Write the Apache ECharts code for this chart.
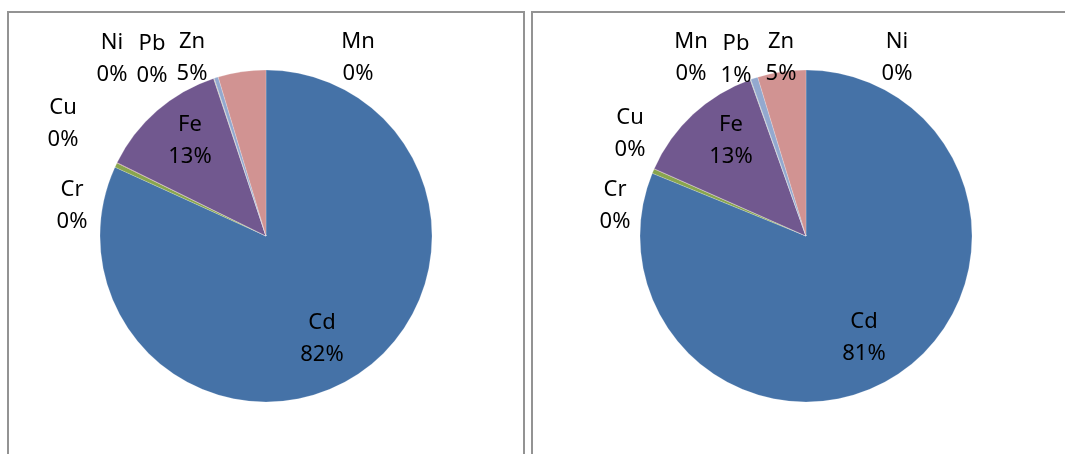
<!DOCTYPE html>
<html>
<head>
<meta charset="utf-8">
<script src="https://cdn.jsdelivr.net/npm/echarts@6/dist/echarts.min.js"></script>
<style>
  html, body { margin: 0; padding: 0; background: #fff; }
  #chart { width: 1065px; height: 454px; }
</style>
</head>
<body>
<div id="chart"></div>
<script>
// metal shares, clockwise from 12 o'clock
let metals = ['Cd', 'Cr', 'Cu', 'Fe', 'Mn', 'Ni', 'Pb', 'Zn'];
let sharesLeft = [81.8, 0.45, 0.03, 12.6, 0.03, 0.03, 0.4, 4.65];
let sharesRight = [81.2, 0.45, 0.03, 12.9, 0.03, 0.03, 0.7, 4.7];

let colors = ['#4572A7', '#89A54E', '#AA4643', '#71588F', '#4198AF', '#DB843D', '#93A9CF', '#D19392'];

// where Excel put each data label (label centre, px)
let labelPosLeft = {
    Cd: [322, 339], Cr: [72, 206], Cu: [63, 124], Fe: [190, 141],
    Mn: [358, 58], Ni: [112, 59], Pb: [152, 60], Zn: [192, 58]
};
let labelPosRight = {
    Cd: [864, 338], Cr: [615, 206], Cu: [630, 134], Fe: [731, 141],
    Mn: [691, 58], Ni: [897, 58], Pb: [736, 60], Zn: [781, 58]
};

function toData(vals) {
    return metals.map(function (m, i) {
        return { name: m, value: vals[i], itemStyle: { color: colors[i] } };
    });
}

function pieSeries(vals, center, posTable) {
    return {
        type: 'pie',
        center: center,
        radius: 166,
        startAngle: 90,
        clockwise: true,
        avoidLabelOverlap: false,
        animation: false,
        silent: true,
        itemStyle: { borderColor: '#fff', borderWidth: 0.2 },
        label: {
            show: true,
            position: 'outside',
            fontFamily: 'Noto Sans',
            fontSize: 22,
            lineHeight: 32,
            color: '#000',
            align: 'center',
            formatter: function (p) {
                return p.name + '\n' + Math.round(p.percent) + '%';
            }
        },
        labelLine: { show: false },
        labelLayout: function (p) {
            let pos = posTable[metals[p.dataIndex]];
            return { x: pos[0], y: pos[1], align: 'center', verticalAlign: 'middle' };
        },
        data: toData(vals)
    };
}

let option = {
    backgroundColor: '#fff',
    graphic: [
        {
            type: 'rect',
            shape: { x: 8, y: 12, width: 516, height: 470 },
            style: { fill: 'none', stroke: '#939393', lineWidth: 2 }
        },
        {
            type: 'rect',
            shape: { x: 532, y: 12, width: 560, height: 470 },
            style: { fill: 'none', stroke: '#939393', lineWidth: 2 }
        }
    ],
    series: [
        pieSeries(sharesLeft, [266, 236], labelPosLeft),
        pieSeries(sharesRight, [806, 236], labelPosRight)
    ]
};

let chart = echarts.init(document.getElementById('chart'));
chart.setOption(option);
</script>
</body>
</html>
